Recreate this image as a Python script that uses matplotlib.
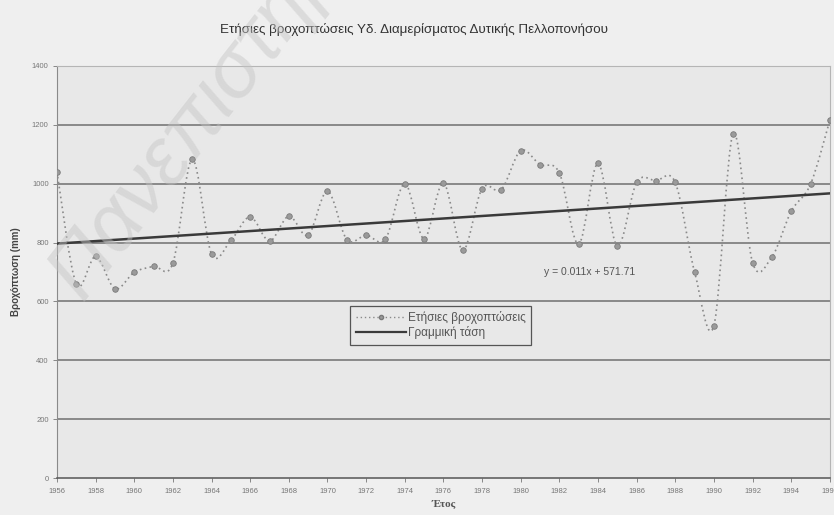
import numpy as np
import matplotlib
matplotlib.use("Agg")
import matplotlib.pyplot as plt
from matplotlib.path import Path
from matplotlib.patches import PathPatch
from matplotlib.lines import Line2D

plt.rcParams['font.family'] = ['Liberation Sans', 'DejaVu Sans']

# Annual rainfall, Western Peloponnese water district (mm)
years = list(range(1956, 1997))
rainfall = [1040, 659, 753, 643, 699, 719, 730, 1083, 761, 807,
            887, 805, 890, 825, 975, 810, 825, 811, 1000, 813,
            1003, 774, 983, 980, 1112, 1065, 1037, 794, 1069, 788,
            1004, 1010, 1004, 700, 518, 1170, 732, 751, 906, 998,
            1215]

title = "Ετήσιες βροχοπτώσεις Υδ. Διαμερίσματος Δυτικής Πελλοπονήσου"
ylabel = "Βροχόπτωση (mm)"
xlabel = "Έτος"
series_name = "Ετήσιες βροχοπτώσεις"
trend_name = "Γραμμική τάση"
equation = "y = 0.011x + 571.71"
yticks = list(range(0, 1401, 200))
xticks = list(range(1956, 1997, 2))

grid_col = "#6f6f6f"
line_col = "#8a8a8a"
trend_col = "#3a3a3a"


def smooth_path(x, y):
    # cubic bezier through every point, excel-style smoothed line
    x = np.asarray(x, float)
    y = np.asarray(y, float)
    verts = [(x[0], y[0])]
    codes = [Path.MOVETO]
    n = len(x)
    for i in range(n - 1):
        i0 = max(i - 1, 0)
        i3 = min(i + 2, n - 1)
        c1 = (x[i] + (x[i + 1] - x[i0]) / 6, y[i] + (y[i + 1] - y[i0]) / 6)
        c2 = (x[i + 1] - (x[i3] - x[i]) / 6, y[i + 1] - (y[i3] - y[i]) / 6)
        verts += [c1, c2, (x[i + 1], y[i + 1])]
        codes += [Path.CURVE4] * 3
    return Path(verts, codes)


fig = plt.figure(figsize=(8.34, 5.15), dpi=100, facecolor="#efefef")
ax = fig.add_axes([0.0683, 0.0718, 0.9267, 0.8002])
ax.set_facecolor("#e8e8e8")

ax.set_xlim(1956, 1996)
ax.set_ylim(0, 1400)

for v in yticks[1:]:
    ax.axhline(v, color=grid_col, lw=1.1, zorder=1)

# smoothed dotted rainfall line + markers
curve = PathPatch(smooth_path(years, rainfall), facecolor="none",
                  edgecolor=line_col, lw=1.2, linestyle=(0, (1, 2)), zorder=3)
ax.add_patch(curve)
ax.plot(years, rainfall, linestyle="none", marker="o", ms=4,
        mfc="#9a9a9a", mec="#7a7a7a", mew=0.6, zorder=4)

# linear trend fitted on the series
coef = np.polyfit(years, rainfall, 1)
trend_y = np.polyval(coef, [years[0], years[-1]])
ax.plot([years[0], years[-1]], trend_y, color=trend_col, lw=1.8, zorder=5)

ax.text(1981.2, 700, equation, fontsize=7.5, color="#555555", va="center")

ax.set_xticks(xticks)
ax.set_yticks(yticks)
ax.tick_params(axis="both", labelsize=5.5, colors="#777777", length=3,
               width=0.6, direction="out", pad=3)
ax.tick_params(axis="x", pad=4)

for side in ["top", "right"]:
    ax.spines[side].set_color("#b5b5b5")
    ax.spines[side].set_linewidth(0.8)
ax.spines["left"].set_color("#8a8a8a")
ax.spines["bottom"].set_color("#555555")
ax.spines["bottom"].set_linewidth(1.1)

ax.set_ylabel(ylabel, fontsize=7, fontweight="bold", color="#444444", labelpad=8)
ax.set_xlabel(xlabel, fontsize=8, fontweight="bold", color="#555555",
              family=["Liberation Serif", "DejaVu Serif"], labelpad=4)
fig.text(0.497, 0.943, title, ha="center", va="center", fontsize=9.6, color="#333333")

handles = [
    Line2D([], [], color=line_col, lw=1.0, linestyle=(0, (1, 2)), marker="o",
           ms=3, mfc="#9a9a9a", mec="#7a7a7a"),
    Line2D([], [], color=trend_col, lw=1.6),
]
leg = ax.legend(handles, [series_name, trend_name], loc="upper left",
                bbox_to_anchor=(0.3795, 0.418), fontsize=8.5, frameon=True,
                fancybox=False, framealpha=1, edgecolor="#555555",
                facecolor="#e8e8e8", handlelength=4.3, handletextpad=0.15,
                borderpad=0.45, labelspacing=0.2, borderaxespad=0)
leg.get_frame().set_linewidth(0.9)
for t in leg.get_texts():
    t.set_color("#555555")

# faint diagonal stamp across the upper left
fig.text(0.1, 0.41, "Πανεπιστήμιο Πατρών", rotation=52, fontsize=58,
         color="#c4c4c4", alpha=0.45, style="italic", ha="left", va="baseline",
         rotation_mode="anchor", zorder=10)

fig.savefig("out.png", dpi=100, facecolor=fig.get_facecolor())
